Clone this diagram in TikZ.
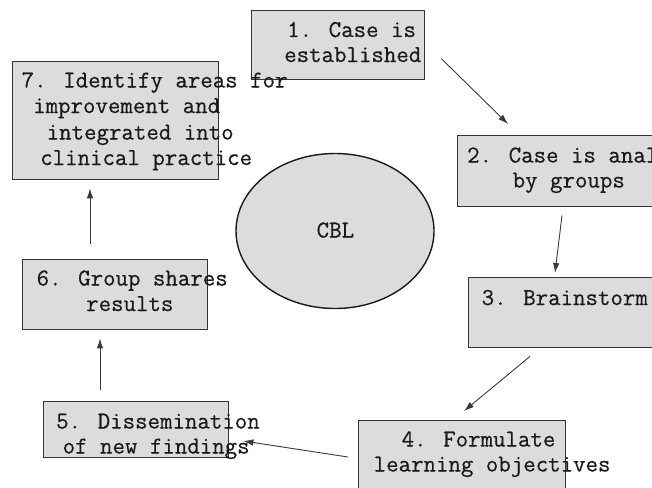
\documentclass[tikz,border=0pt]{standalone}
\usepackage{fontspec}
\newfontfamily\courlike{Latin Modern Mono}[FakeBold=0.5]
\usetikzlibrary{arrows.meta,shapes.geometric}
\definecolor{boxfill}{HTML}{DCDCDC}
\definecolor{boxline}{HTML}{333333}
\definecolor{inkc}{HTML}{1A1A1A}
\definecolor{arrc}{HTML}{3A3A3A}
\begin{document}
\begin{tikzpicture}[x=1pt,y=-1pt,
  box/.style={draw=boxline, line width=1.4pt, fill=boxfill, inner sep=0pt, anchor=north west},
  txt/.style={anchor=base west, inner sep=0pt, text=inkc, font=\courlike\fontsize{24.2}{25}\selectfont},
  flow/.style={draw=arrc, line width=0.9pt, -{Latex[length=10pt,width=6.5pt]}}
]
\useasboundingbox (0,0) rectangle (652,487);
\fill[white] (0,0) rectangle (652,487);
% boxes
\node[box, minimum width=173pt, minimum height=69pt] (b1) at (251,10) {};
\node[box, minimum width=260pt, minimum height=71pt] (b2) at (457,135) {};
\node[box, minimum width=250pt, minimum height=70pt] (b3) at (468,277) {};
\node[box, minimum width=207pt, minimum height=110pt] (b4) at (358,420) {};
\node[box, minimum width=185pt, minimum height=56pt] (b5) at (43,401) {};
\node[box, minimum width=185pt, minimum height=70pt] (b6) at (22,259) {};
\node[box, minimum width=206pt, minimum height=118pt] (b7) at (12,61) {};
% ellipse
\node[draw=inkc, line width=1.4pt, fill=boxfill, ellipse, minimum width=198pt, minimum height=155pt, inner sep=0pt] (cbl) at (335,231) {};
% texts
\node[txt] (t1a) at (287,37) {1. Case is};
\node[txt] (t1b) at (284,62) {established};
\node[txt] (t2a) at (467,162.5) {2. Case is anal};
\node[txt] (t2b) at (512.5,187.5) {by groups};
\node[txt] (t3a) at (481.5,305) {3. Brainstorm};
\node[txt] (t4a) at (401.5,446.5) {4. Formulate};
\node[txt] (t4b) at (373.5,471.5) {learning objectives};
\node[txt] (t5a) at (56,428.5) {5. Dissemination};
\node[txt] (t5b) at (62.5,453.5) {of new findings};
\node[txt] (t6a) at (36.5,285.5) {6. Group shares};
\node[txt] (t6b) at (86,311) {results};
\node[txt] (t7a) at (21.5,87.5) {7. Identify areas for};
\node[txt] (t7b) at (33,113) {improvement and};
\node[txt] (t7c) at (46.5,139.5) {integrated into};
\node[txt] (t7d) at (40,165) {clinical practice};
\node[txt] (tc) at (316.5,237.5) {CBL};
% connectors
\draw[flow] ([shift={(16,13.5)}]b1.east) -- ([shift={(51,-11)}]b2.north west);
\draw[flow] ([shift={(105,8)}]b2.south west) -- ([shift={(87,-4)}]b3.north west);
\draw[flow] ([shift={(62,8)}]b3.south west) -- ([shift={(106,-9)}]b4.north west);
\draw[flow] ([shift={(-10,37)}]b4.north west) -- ([shift={(14,40)}]b5.north east);
\draw[flow] ([shift={(57,-11)}]b5.north west) -- ([shift={(78,8)}]b6.south west);
\draw[flow] ([shift={(68,-15)}]b6.north west) -- ([shift={(78,8)}]b7.south west);
\end{tikzpicture}
\end{document}
